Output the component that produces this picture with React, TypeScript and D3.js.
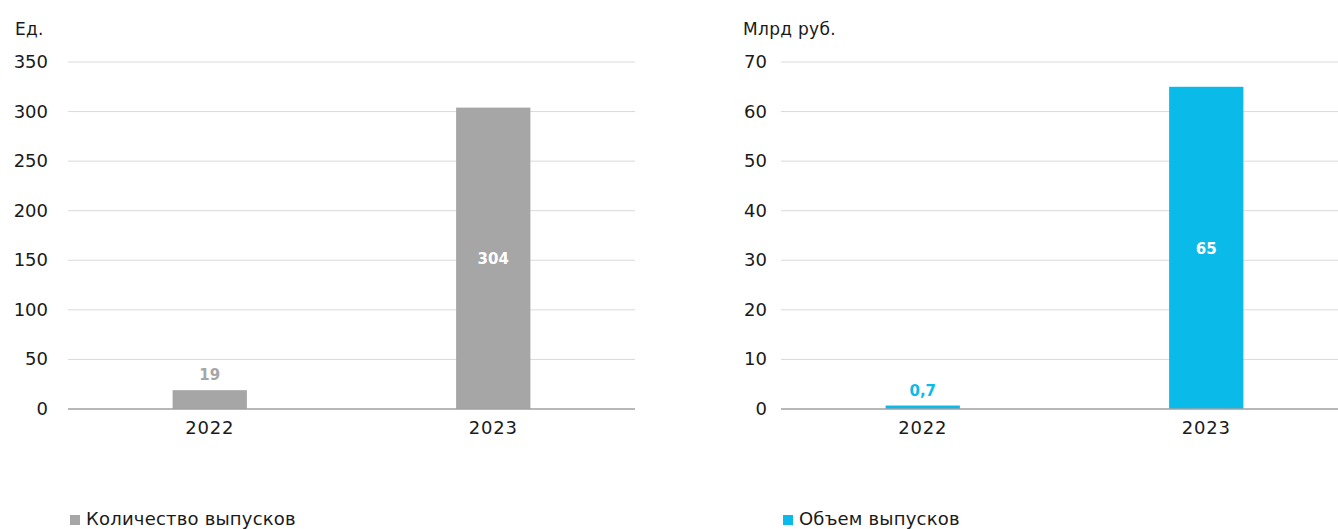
import React from "react";
import * as d3 from "d3";

const years = ["2022", "2023"];
const countValues = [19, 304];
const volumeValues = [0.7, 65];
const countLabels = ["19", "304"];
const volumeLabels = ["0,7", "65"];
const countTicks = [0, 50, 100, 150, 200, 250, 300, 350];
const volumeTicks = [0, 10, 20, 30, 40, 50, 60, 70];

const W = 1338;
const H = 529;
const FONT = "'DejaVu Sans', sans-serif";

type PanelProps = {
  x0: number;
  x1: number;
  labelRight: number;
  unitX: number;
  unit: string;
  values: number[];
  labels: string[];
  ticks: number[];
  max: number;
  color: string;
  legend: string;
  insideThreshold: number;
};

function Panel(p: PanelProps) {
  const y = d3.scaleLinear().domain([0, p.max]).range([409, 62]);
  const x = d3.scaleBand<string>().domain(years).range([p.x0, p.x1]).padding(0);
  const bw = x.bandwidth() * 0.262;
  return (
    <g>
      <text x={p.unitX} y={35} fontSize={17} letterSpacing={0.3} fontFamily={FONT} fill="#1a1a1a">
        {p.unit}
      </text>
      {p.ticks.map((t) => (
        <g key={t}>
          {t !== 0 && (
            <line x1={p.x0} x2={p.x1} y1={y(t)} y2={y(t)} stroke="#dadada" strokeWidth={1} />
          )}
          <text
            x={p.labelRight}
            y={y(t) + 6}
            textAnchor="end"
            fontSize={18}
            fontFamily={FONT}
            fill="#1a1a1a"
          >
            {t}
          </text>
        </g>
      ))}
      {years.map((yr, i) => {
        const cx = (x(yr) as number) + x.bandwidth() / 2;
        const v = p.values[i];
        const top = y(v);
        const inside = v > p.insideThreshold;
        return (
          <g key={yr}>
            <rect x={cx - bw / 2} y={top} width={bw} height={409 - top} fill={p.color} />
            <text
              x={cx}
              y={inside ? (top + 409) / 2 + 6 : top - 10}
              textAnchor="middle"
              fontSize={15}
              fontWeight={700}
              fontFamily={FONT}
              fill={inside ? "#ffffff" : p.color}
            >
              {p.labels[i]}
            </text>
            <text x={cx} y={434} textAnchor="middle" fontSize={18} letterSpacing={0.8} fontFamily={FONT} fill="#1a1a1a">
              {yr}
            </text>
          </g>
        );
      })}
      <line x1={p.x0} x2={p.x1} y1={409} y2={409} stroke="#a0a0a0" strokeWidth={1.5} />
      <rect x={p.x0 + 2} y={515} width={10} height={10} fill={p.color} />
      <text x={p.x0 + 18} y={525} fontSize={18} letterSpacing={0.2} fontFamily={FONT} fill="#1a1a1a">
        {p.legend}
      </text>
    </g>
  );
}

export default function App() {
  return (
    <svg
      width={W}
      height={H}
      style={{ position: "absolute", left: 0, top: 0, background: "#fff" }}
    >
      <Panel
        x0={68}
        x1={635}
        labelRight={48}
        unitX={15}
        unit="Ед."
        values={countValues}
        labels={countLabels}
        ticks={countTicks}
        max={350}
        color="#a6a6a6"
        legend="Количество выпусков"
        insideThreshold={100}
      />
      <Panel
        x0={781}
        x1={1348}
        labelRight={767}
        unitX={743}
        unit="Млрд руб."
        values={volumeValues}
        labels={volumeLabels}
        ticks={volumeTicks}
        max={70}
        color="#0abbea"
        legend="Объем выпусков"
        insideThreshold={20}
      />
    </svg>
  );
}
